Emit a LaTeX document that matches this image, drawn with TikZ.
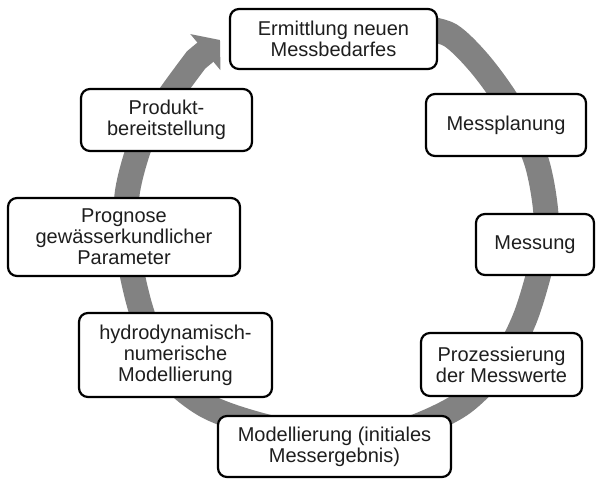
\documentclass[tikz,border=0pt]{standalone}
\usepackage{fontspec}
\setmainfont{Liberation Sans}
\usetikzlibrary{arrows.meta}
\definecolor{CycleGray}{HTML}{828282}
\definecolor{BoxText}{HTML}{1E1E1E}

\begin{document}
\begin{tikzpicture}[
    x=1pt,y=-1pt,
    stage/.style={draw=black,line width=2.2pt,rounded corners=9pt,fill=white,
      align=center,text=BoxText,inner sep=2pt,
      font=\fontsize{20}{21}\selectfont},
    ring/.style={draw=CycleGray,line width=25pt,
      -{Triangle[width=46pt,length=19pt]}}
  ]
  \useasboundingbox (0,0) rectangle (597,479);
  % grey cycle arrow behind the boxes
  \draw[ring] plot[smooth] coordinates {(418,27) (450,35) (480,64) (510,106)
      (536,160) (546,215) (542,260) (525,318) (500,365) (460,405) (400,432)
      (335,440) (260,425) (205,405) (165,370) (141,310) (128,250) (127,195)
      (140,145) (158,113) (176,87) (196,60)} -- (220,40);
  % stages, clockwise from the top
  \node[stage,minimum width=207pt,minimum height=60pt] (ermittlung) at (333.5,39)
    {Ermittlung neuen\\Messbedarfes};
  \node[stage,minimum width=160pt,minimum height=62pt] (planung) at (506,125)
    {Messplanung};
  \node[stage,minimum width=118pt,minimum height=61pt] (messung) at (535,244.5)
    {Messung};
  \node[stage,minimum width=161pt,minimum height=63pt] (prozess) at (501.5,364.5)
    {Prozessierung\\der Messwerte};
  \node[stage,minimum width=233pt,minimum height=61pt] (initial) at (334.5,446.5)
    {Modellierung (initiales\\Messergebnis)};
  \node[stage,minimum width=193pt,minimum height=84pt] (hydro) at (175.5,355)
    {hydrodynamisch-\\numerische\\Modellierung};
  \node[stage,minimum width=232pt,minimum height=78pt] (prognose) at (124,237)
    {Prognose\\gewässerkundlicher\\Parameter};
  \node[stage,minimum width=171pt,minimum height=62pt] (produkt) at (166.5,120)
    {Produkt-\\bereitstellung};
\end{tikzpicture}
\end{document}
